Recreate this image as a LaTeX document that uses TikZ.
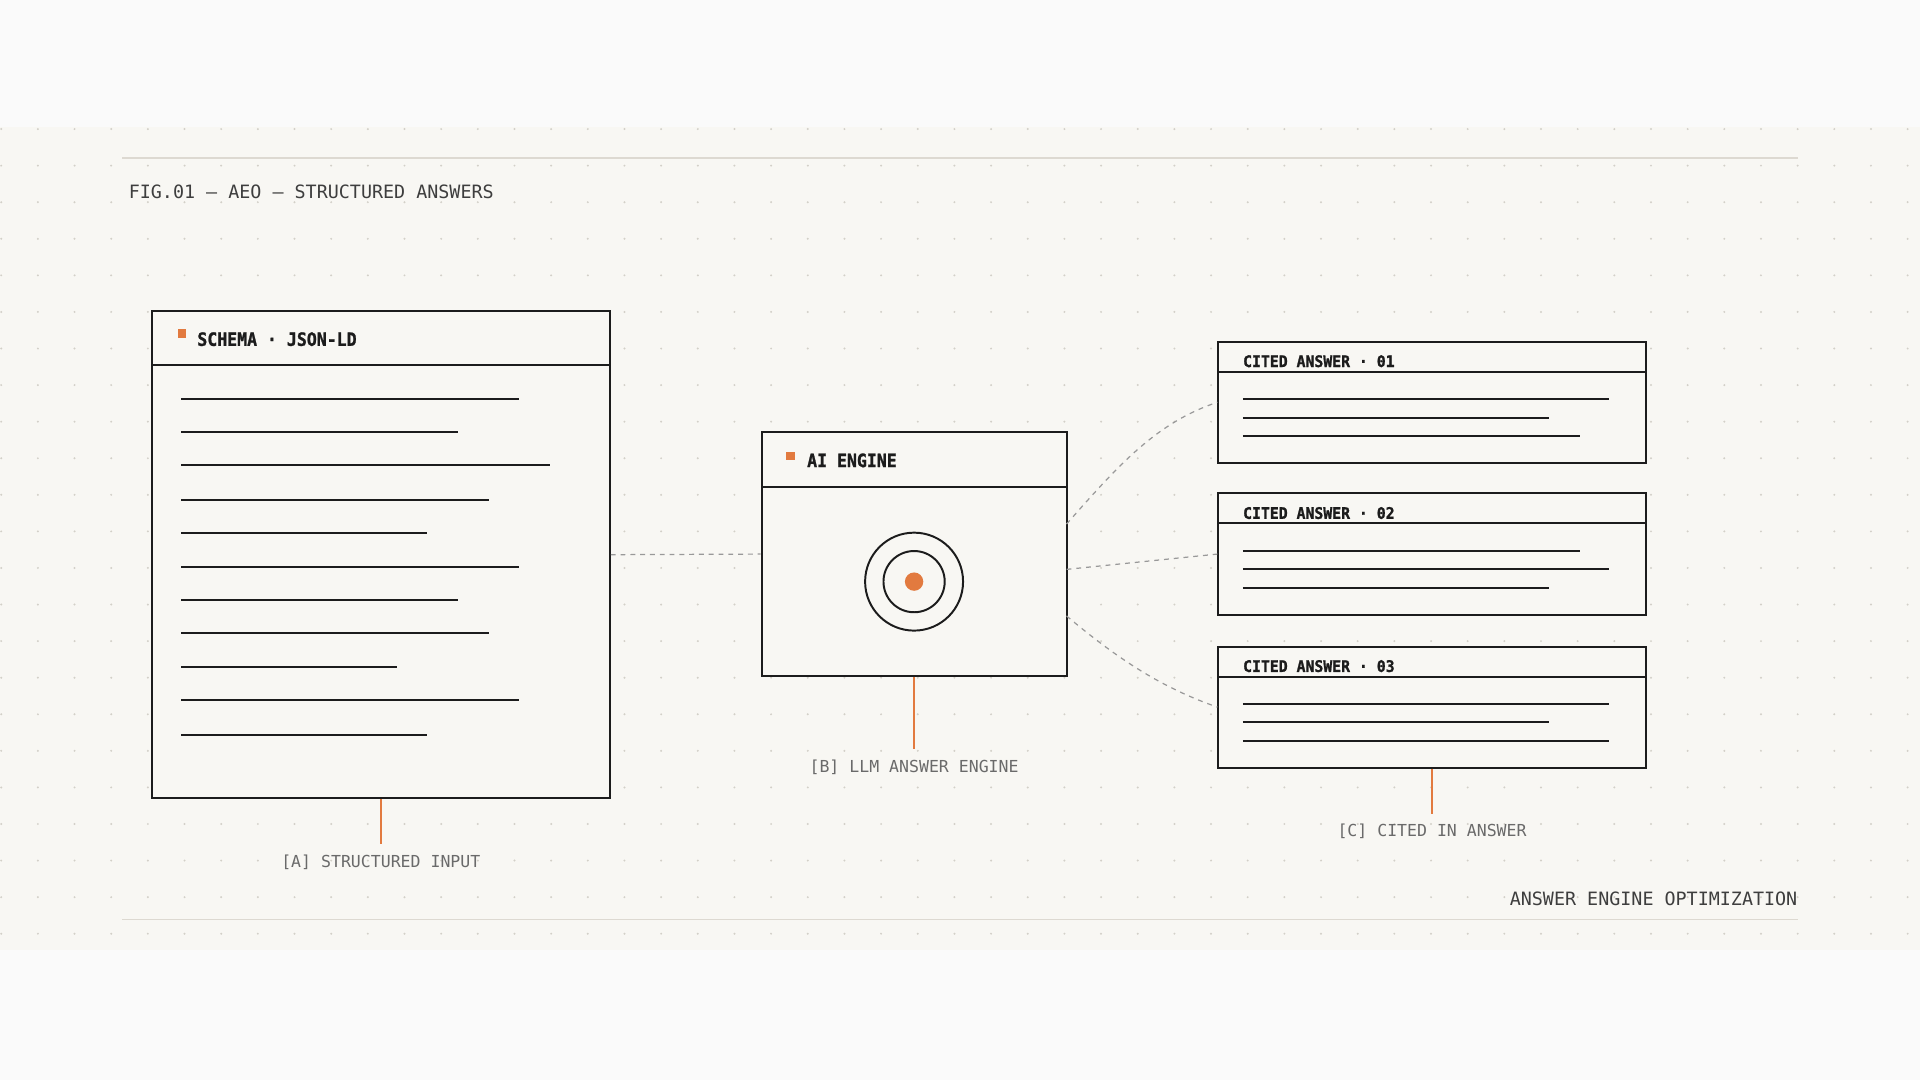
\documentclass[tikz,border=0pt]{standalone}
\usepackage{fontspec}
\setmonofont{DejaVu Sans Mono}
\newfontfamily\headfont[FakeBold=1.2,FakeStretch=0.9]{DejaVu Sans Mono Bold}
\newfontfamily\citefont[FakeBold=1.2,FakeStretch=0.93]{DejaVu Sans Mono Bold}
\usetikzlibrary{calc}
\definecolor{paper}{HTML}{F8F7F3}
\definecolor{page}{HTML}{FAFAFA}
\definecolor{ink}{HTML}{1C1C1C}
\definecolor{accent}{HTML}{E27A3F}
\definecolor{rule}{HTML}{DDD9D1}
\definecolor{griddot}{HTML}{D3D0C8}
\definecolor{muted}{HTML}{6A6A6A}
\begin{document}
\begin{tikzpicture}[x=1pt,y=-1pt,
    box/.style={draw=ink,line width=1.6pt,fill=paper,inner sep=0pt},
    txtline/.style={draw=ink,line width=1.7pt},
    link/.style={draw=black!40,line width=1pt,dash pattern=on 4pt off 4pt},
    leader/.style={draw=accent,line width=1.2pt},
    caption/.style={font=\ttfamily\fontsize{13.5}{14}\selectfont,text=muted},
    head/.style={font=\headfont\fontsize{15}{16}\selectfont,text=ink,anchor=west,inner sep=0pt},
    smallhead/.style={font=\citefont\fontsize{13}{14}\selectfont,text=ink,anchor=west,inner sep=0pt}]
      \useasboundingbox (0,0) rectangle (1568,882);
      \fill[page] (0,0) rectangle (1568,882);
      \fill[paper] (0,104) rectangle (1568,776);
      % dot grid
      \foreach \i in {0,...,52}
        \foreach \j in {0,...,22}
          \fill[griddot] (1+29.94*\i,105.4+29.87*\j) circle (0.9);
      \draw[rule,line width=1pt] (100,129) -- (1468,129);
      \draw[rule,line width=1pt] (100,751) -- (1468,751);
      \node[anchor=west,inner sep=0pt,text=ink!85,font=\ttfamily\fontsize{15}{16}\selectfont]
        (title) at (105,157) {FIG.01 — AEO — STRUCTURED ANSWERS};
      \node[anchor=east,inner sep=0pt,text=ink!85,font=\ttfamily\fontsize{15}{16}\selectfont]
        (foot) at (1468,734) {ANSWER ENGINE OPTIMIZATION};

      % boxes
      \node[box,minimum width=374pt,minimum height=398pt] (A) at (311,453) {};
      \node[box,minimum width=249pt,minimum height=199pt] (B) at (746.5,452.5) {};
      \node[box,minimum width=349pt,minimum height=99pt] (C1) at (1169.5,328.5) {};
      \node[box,minimum width=349pt,minimum height=99pt] (C2) at (1169.5,452.5) {};
      \node[box,minimum width=349pt,minimum height=99pt] (C3) at (1169.5,577.5) {};

      % headers
      \draw[ink,line width=1.6pt] (124,298) -- (498,298);
      \fill[accent] (145,269) rectangle (152,276);
      \node[head] (Ahead) at (161,277) {SCHEMA · JSON-LD};
      \draw[ink,line width=1.6pt] (622,398) -- (871,398);
      \fill[accent] (642,369) rectangle (649,376);
      \node[head] (Bhead) at (659,376) {AI ENGINE};
      \foreach \n/\t in {1/279,2/403,3/528} {
        \draw[ink,line width=1.6pt] (995,\t+24.5) -- (1344,\t+24.5);
        \node[smallhead] (C\n head) at (1015,\t+16) {CITED ANSWER · 0\n};
      }

      % text lines
      \foreach \y/\e in {326/424,353/374,380/449,408/399,435/349,463/424,490/374,517/399,545/324,572/424,600/349}
        \draw[txtline] (148,\y) -- (\e,\y);
      \foreach \y/\e in {326/1314,341/1265,356/1290,450/1290,465/1314,480/1265,575/1314,590/1265,605/1314}
        \draw[txtline] (1015,\y) -- (\e,\y);

      % engine mark
      \draw[ink,line width=1.6pt] (746.5,475) circle (40);
      \draw[ink,line width=1.6pt] (746.5,475) circle (25);
      \fill[accent] (746.5,475) circle (7.5);

      % connectors
      \coordinate (b1) at (871,428);
      \coordinate (b2) at (871,465);
      \coordinate (b3) at (871,503);
      \draw[link] (A.east) -- (B.west);
      \draw[link] (b1) .. controls (915,378) and (945,345) .. (C1.west);
      \draw[link] (b2) -- (C2.west);
      \draw[link] (b3) .. controls (915,540) and (950,562) .. (C3.west);

      % leaders and captions
      \coordinate (la) at (311,689);
      \coordinate (lb) at (746.5,612);
      \coordinate (lc) at (1169.5,665);
      \draw[leader] (A.south) -- (la);
      \draw[leader] (B.south) -- (lb);
      \draw[leader] (C3.south) -- (lc);
      \node[caption] (capA) at (311,704) {[A] STRUCTURED INPUT};
      \node[caption] (capB) at (746.5,627) {[B] LLM ANSWER ENGINE};
      \node[caption] (capC) at (1169.5,679) {[C] CITED IN ANSWER};
    \end{tikzpicture}
\end{document}
